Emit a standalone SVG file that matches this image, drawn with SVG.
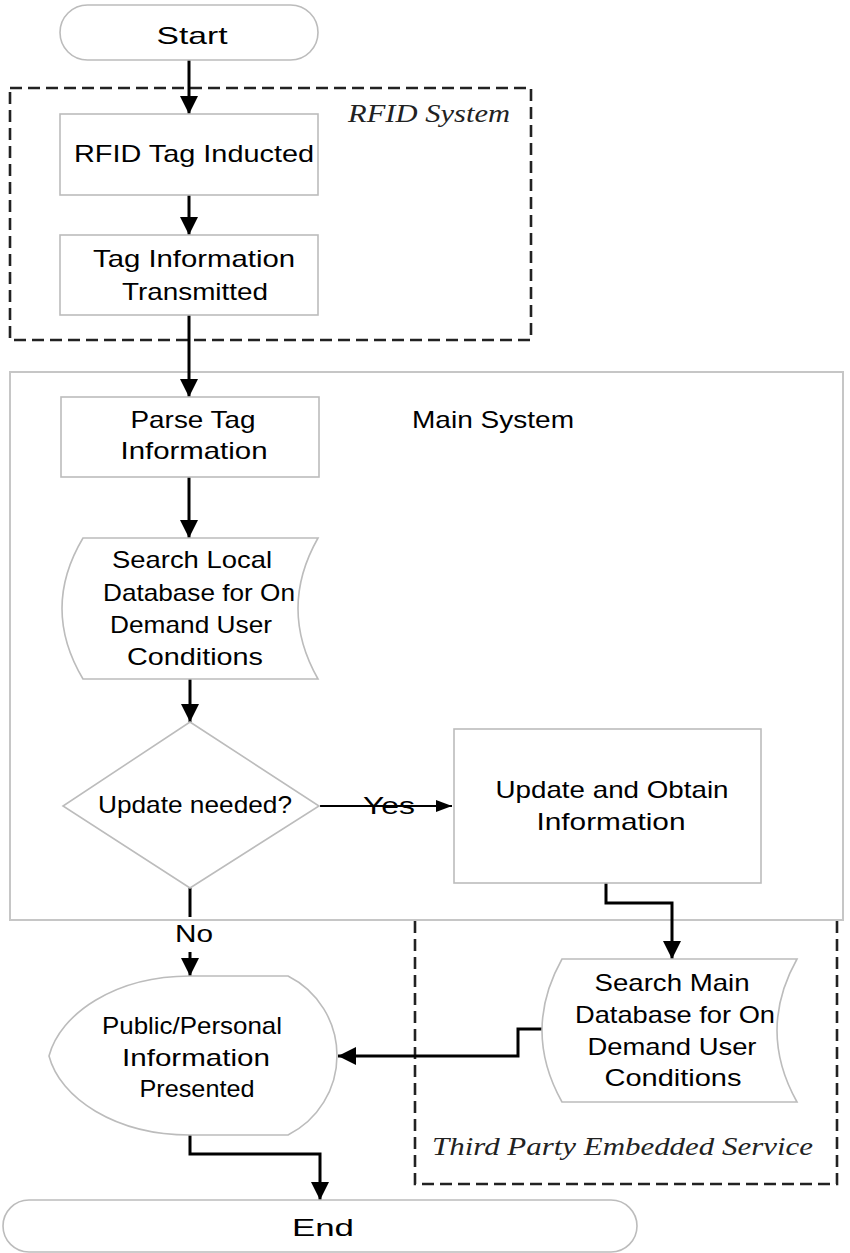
<svg xmlns="http://www.w3.org/2000/svg" width="850" height="1253" viewBox="0 0 850 1253">
<defs>
<style>
.node{fill:#fff;stroke:#bcbcbc;stroke-width:1.6}
.grp{fill:none;stroke:#c6c6c6;stroke-width:2}
.dash{fill:none;stroke:#222;stroke-width:2.6;stroke-dasharray:12 6}
.t{font-family:"Liberation Sans",Arial,sans-serif;font-size:24px;fill:#000;text-anchor:middle}
.it{font-family:"Liberation Serif","Times New Roman",serif;font-style:italic;font-size:25px;fill:#222}
.c{fill:none;stroke:#000;stroke-width:3}
.cy{fill:none;stroke:#000;stroke-width:2.2}
</style>
<marker id="ah" markerUnits="userSpaceOnUse" markerWidth="18" markerHeight="18" refX="18" refY="9" orient="auto" viewBox="0 0 18 18"><path d="M0,0 L18,9 L0,18 z" fill="#000"/></marker>
<marker id="ahs" markerUnits="userSpaceOnUse" markerWidth="16" markerHeight="12" refX="16" refY="6" orient="auto" viewBox="0 0 16 12"><path d="M0,0 L16,6 L0,12 z" fill="#000"/></marker>
</defs>
<rect width="850" height="1253" fill="#fff"/>

<g id="rfid-system">
<rect class="dash" x="10" y="88" width="521" height="252"/>
<text class="it" x="348" y="122" textLength="162" lengthAdjust="spacingAndGlyphs">RFID System</text>
</g>
<g id="main-system">
<rect class="grp" x="10" y="372" width="833" height="548"/>
<text class="t" x="493" y="428" textLength="162" lengthAdjust="spacingAndGlyphs">Main System</text>
</g>
<g id="third-party">
<path class="dash" d="M415,921 L415,1184 L837,1184 L837,921"/>
<text class="it" x="432" y="1155" textLength="381" lengthAdjust="spacingAndGlyphs">Third Party Embedded Service</text>
</g>

<g id="connectors">
<line class="c" x1="189" y1="60" x2="189" y2="114" marker-end="url(#ah)"/>
<line class="c" x1="189" y1="195" x2="189" y2="235" marker-end="url(#ah)"/>
<line class="c" x1="189" y1="315" x2="189" y2="397" marker-end="url(#ah)"/>
<line class="c" x1="189" y1="477" x2="189" y2="538" marker-end="url(#ah)"/>
<line class="c" x1="190" y1="679" x2="190" y2="722" marker-end="url(#ah)"/>
<line class="cy" x1="320" y1="806" x2="452" y2="806" marker-end="url(#ahs)"/>
<text class="t" x="389" y="814" font-size="22" textLength="52" lengthAdjust="spacingAndGlyphs">Yes</text>
<line class="c" x1="190" y1="888" x2="190" y2="917"/>
<text class="t" x="194" y="942" textLength="38" lengthAdjust="spacingAndGlyphs">No</text>
<line class="c" x1="190" y1="952" x2="190" y2="976" marker-end="url(#ah)"/>
<polyline class="c" points="606,883 606,903 672,903 672,959" marker-end="url(#ah)"/>
<polyline class="c" points="542,1029 518,1029 518,1056 338,1056" marker-end="url(#ah)"/>
<polyline class="c" points="190,1135 190,1154 320,1154 320,1200" marker-end="url(#ah)"/>
</g>

<g id="start">
<rect class="node" x="60" y="5" width="258" height="55" rx="27.5"/>
<text class="t" x="192" y="44" font-size="30" textLength="71" lengthAdjust="spacingAndGlyphs">Start</text>
</g>
<g id="rfid-tag-inducted">
<rect class="node" x="60" y="114" width="258" height="81"/>
<text class="t" x="194" y="162" font-size="25" textLength="240" lengthAdjust="spacingAndGlyphs">RFID Tag Inducted</text>
</g>
<g id="tag-information-transmitted">
<rect class="node" x="60" y="235" width="258" height="80"/>
<text class="t" x="194" y="267" textLength="202" lengthAdjust="spacingAndGlyphs">Tag Information</text>
<text class="t" x="195" y="300" textLength="146" lengthAdjust="spacingAndGlyphs">Transmitted</text>
</g>
<g id="parse-tag-information">
<rect class="node" x="61" y="397" width="258" height="80"/>
<text class="t" x="193" y="428" textLength="125" lengthAdjust="spacingAndGlyphs">Parse Tag</text>
<text class="t" x="194" y="459" textLength="147" lengthAdjust="spacingAndGlyphs">Information</text>
</g>
<g id="search-local-database">
<path class="node" d="M83,538 L318,538 Q278,608.5 318,679 L83,679 Q41,608.5 83,538 Z"/>
<text class="t" x="192" y="568" textLength="160" lengthAdjust="spacingAndGlyphs">Search Local</text>
<text class="t" x="199" y="601" textLength="192" lengthAdjust="spacingAndGlyphs">Database for On</text>
<text class="t" x="191" y="633" textLength="162" lengthAdjust="spacingAndGlyphs">Demand User</text>
<text class="t" x="195" y="665" textLength="136" lengthAdjust="spacingAndGlyphs">Conditions</text>
</g>
<g id="update-needed">
<polygon class="node" points="190,722 319,806 190,888 63,806"/>
<text class="t" x="195" y="813" font-size="22" textLength="194" lengthAdjust="spacingAndGlyphs">Update needed?</text>
</g>
<g id="update-and-obtain">
<rect class="node" x="454" y="729" width="307" height="154"/>
<text class="t" x="612" y="798" textLength="233" lengthAdjust="spacingAndGlyphs">Update and Obtain</text>
<text class="t" x="611" y="830" textLength="149" lengthAdjust="spacingAndGlyphs">Information</text>
</g>
<g id="search-main-database">
<path class="node" d="M562,959 L797,959 Q757,1030.5 797,1102 L562,1102 Q522,1030.5 562,959 Z"/>
<text class="t" x="672" y="991" textLength="155" lengthAdjust="spacingAndGlyphs">Search Main</text>
<text class="t" x="675" y="1023" textLength="200" lengthAdjust="spacingAndGlyphs">Database for On</text>
<text class="t" x="672" y="1055" textLength="169" lengthAdjust="spacingAndGlyphs">Demand User</text>
<text class="t" x="673" y="1086" textLength="137" lengthAdjust="spacingAndGlyphs">Conditions</text>
</g>
<g id="public-personal-information">
<path class="node" d="M190,976 L288,976 A89,89 0 0 1 288,1135 L190,1135 C115,1135 60,1098 49,1056 C60,1014 115,976 190,976 Z"/>
<text class="t" x="192" y="1034" textLength="180" lengthAdjust="spacingAndGlyphs">Public/Personal</text>
<text class="t" x="196" y="1066" textLength="148" lengthAdjust="spacingAndGlyphs">Information</text>
<text class="t" x="197" y="1097" font-size="25" textLength="115" lengthAdjust="spacingAndGlyphs">Presented</text>
</g>
<g id="end">
<rect class="node" x="3" y="1200" width="634" height="52" rx="26"/>
<text class="t" x="323" y="1236" font-size="32" textLength="62" lengthAdjust="spacingAndGlyphs">End</text>
</g>
</svg>
